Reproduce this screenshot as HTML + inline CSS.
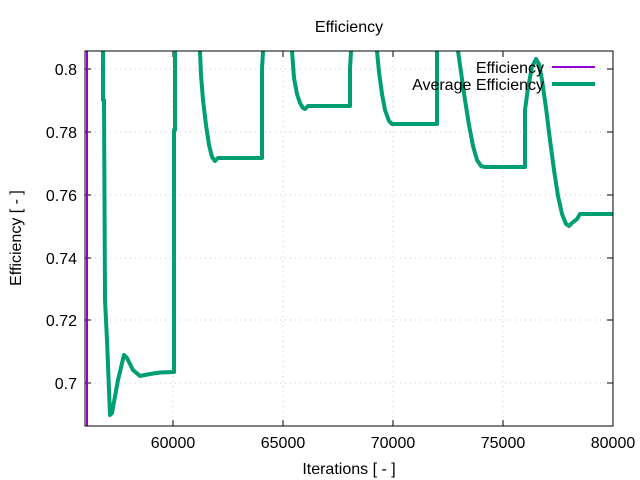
<!DOCTYPE html>
<html><head><meta charset="utf-8"><style>
body{margin:0;background:#fff}
svg{display:block;font-family:"Liberation Sans",sans-serif}
</style></head><body>
<svg width="640" height="480" viewBox="0 0 640 480">
<defs><clipPath id="c"><rect x="85" y="51" width="528" height="375"/></clipPath></defs>
<g stroke="#c8c8c8" stroke-dasharray="1,4" stroke-width="1">
<line x1="85" y1="69" x2="613" y2="69"/><line x1="85" y1="132" x2="613" y2="132"/>
<line x1="85" y1="195" x2="613" y2="195"/><line x1="85" y1="258" x2="613" y2="258"/>
<line x1="85" y1="320" x2="613" y2="320"/><line x1="85" y1="383" x2="613" y2="383"/>
<line x1="173" y1="51" x2="173" y2="426"/><line x1="283" y1="51" x2="283" y2="426"/>
<line x1="393" y1="51" x2="393" y2="426"/><line x1="503" y1="51" x2="503" y2="426"/>
</g>
<g stroke="#000" stroke-width="1">
<line x1="85" y1="69" x2="91" y2="69"/><line x1="85" y1="132" x2="91" y2="132"/><line x1="85" y1="195" x2="91" y2="195"/><line x1="85" y1="258" x2="91" y2="258"/><line x1="85" y1="320" x2="91" y2="320"/><line x1="85" y1="383" x2="91" y2="383"/>
<line x1="613" y1="69" x2="607" y2="69"/><line x1="613" y1="132" x2="607" y2="132"/><line x1="613" y1="195" x2="607" y2="195"/><line x1="613" y1="258" x2="607" y2="258"/><line x1="613" y1="320" x2="607" y2="320"/><line x1="613" y1="383" x2="607" y2="383"/>
<line x1="173" y1="426" x2="173" y2="420"/><line x1="283" y1="426" x2="283" y2="420"/><line x1="393" y1="426" x2="393" y2="420"/><line x1="503" y1="426" x2="503" y2="420"/>
<line x1="173" y1="51" x2="173" y2="57"/><line x1="283" y1="51" x2="283" y2="57"/><line x1="393" y1="51" x2="393" y2="57"/><line x1="503" y1="51" x2="503" y2="57"/>
</g>
<g clip-path="url(#c)" fill="none" stroke-linejoin="round">
<line x1="87" y1="51" x2="87" y2="426" stroke="#9400d3" stroke-width="2"/>
<path d="M103,51 L103,100 L104,100 L105,300 L107,340 L110,415 L112,413 L118,380 L124,355 L127,358 L133,370 L140,376 L150,374 L160,372.5 L174,372 L174,130 L175,130 L175,51 M200,51 L201,75 L203,100 L206,125 L209,145 L212,157 L215,161 L218,158 L262,158 L262,69 L263,51 M292,51 L294,78 L297,94 L300,103 L303,108 L305,109 L308,106 L350,106 L350,69 L351,51 M377,51 L379,72 L382,94 L385,110 L389,121 L392,124 L437,124 L437,51 M458,51 L461,72 L465,100 L469,125 L473,146 L477,160 L481,166 L485,167 L525,167 L525,110 L528,88 L532,67 L536,59 L539,64 L542,80 L546,108 L550,140 L554,170 L558,196 L562,214 L566,224 L569,226 L572,223 L577,219 L580,214 L613,214" stroke="#009e73" stroke-width="4"/>
</g>
<rect x="85" y="51" width="528" height="375" fill="none" stroke="#000" stroke-width="1"/>
<g font-size="16" fill="#000" text-anchor="end">
<text x="77" y="75">0.8</text><text x="77" y="138">0.78</text><text x="77" y="201">0.76</text><text x="77" y="264">0.74</text><text x="77" y="326">0.72</text><text x="77" y="389">0.7</text>
</g>
<g font-size="16" fill="#000" text-anchor="middle">
<text x="173" y="448">60000</text><text x="283" y="448">65000</text><text x="393" y="448">70000</text><text x="503" y="448">75000</text><text x="613" y="448">80000</text>
<text x="349" y="474">Iterations [ - ]</text>
<text x="349" y="32">Efficiency</text>
<text transform="translate(21,238) rotate(-90)">Efficiency [ - ]</text>
</g>
<g font-size="16" fill="#000" text-anchor="end">
<text x="544" y="73">Efficiency</text><text x="544" y="90">Average Efficiency</text>
</g>
<line x1="552" y1="67" x2="595" y2="67" stroke="#9400d3" stroke-width="2"/>
<line x1="552" y1="84" x2="595" y2="84" stroke="#009e73" stroke-width="4"/>
</svg>
</body></html>
